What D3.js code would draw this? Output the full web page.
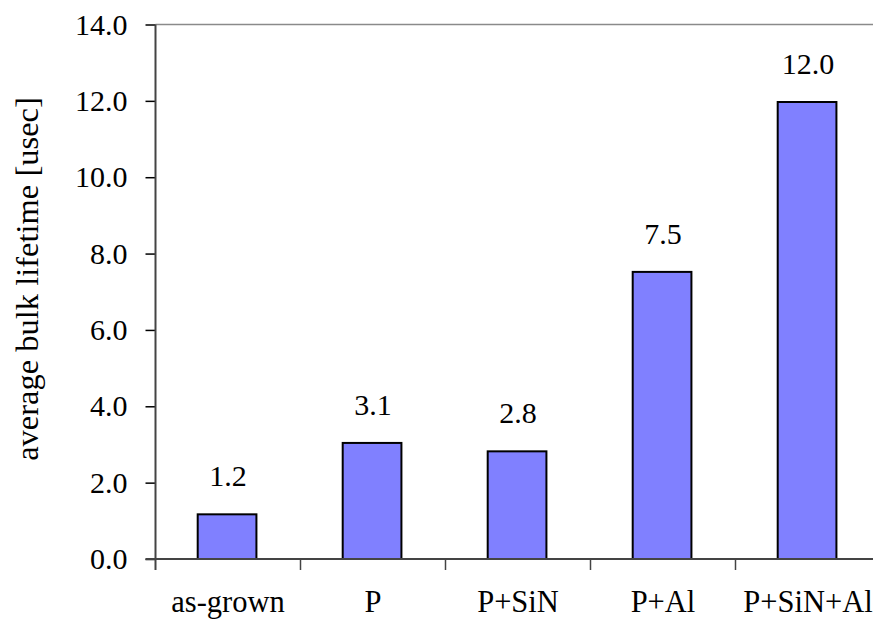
<!DOCTYPE html>
<html>
<head>
<meta charset="utf-8">
<script src="https://cdn.jsdelivr.net/npm/d3@7/dist/d3.min.js"></script>
<style>
  html, body { margin: 0; padding: 0; background: #fff; }
  svg { display: block; }
</style>
</head>
<body>
<svg id="chart" width="873" height="622" font-family="Times New Roman"></svg>
<script>
const categories = ["as-grown", "P", "P+SiN", "P+Al", "P+SiN+Al"];
const values = [1.17, 3.04, 2.82, 7.52, 11.97];
const valueLabels = ["1.2", "3.1", "2.8", "7.5", "12.0"];
const yTicks = [0, 2, 4, 6, 8, 10, 12, 14];
const yTitle = "average bulk lifetime [usec]";

const FONT = "Times New Roman";
const svg = d3.select("#chart");
const plotLeft = 155.5, bandW = 145, plotTop = 24.5, plotBottom = 559;

const x = d3.scaleBand().domain(categories)
  .range([plotLeft, plotLeft + bandW * categories.length]).paddingInner(0).paddingOuter(0);
const y = d3.scaleLinear().domain([0, 14]).range([plotBottom, plotTop]);

// top border line
svg.append("line")
  .attr("x1", plotLeft).attr("x2", 873).attr("y1", y(14)).attr("y2", y(14))
  .attr("stroke", "#8a8a8a").attr("stroke-width", 1.5);

// bars
const bw = x.bandwidth();
svg.append("g").selectAll("rect").data(categories).join("rect")
  .attr("x", (d) => x(d) + bw * 0.3 - 1.3)
  .attr("width", bw * 0.405)
  .attr("y", (d, i) => y(values[i]))
  .attr("height", (d, i) => y(0) - y(values[i]))
  .attr("fill", "#8080ff")
  .attr("stroke", "#000")
  .attr("stroke-width", 2);

// value labels
svg.append("g").selectAll("text").data(categories).join("text")
  .attr("x", (d) => x(d) + bw / 2)
  .attr("y", (d, i) => y(values[i]) - 28)
  .attr("text-anchor", "middle")
  .attr("font-family", FONT).attr("font-size", 30).attr("fill", "#000")
  .text((d, i) => valueLabels[i]);

// y axis
const yAxis = d3.axisLeft(y).tickValues(yTicks).tickFormat(d3.format(".1f"))
  .tickSize(10).tickPadding(18);
const gy = svg.append("g").attr("transform", `translate(${plotLeft},0)`).call(yAxis);
gy.attr("font-family", FONT).attr("font-size", 30);
gy.select(".domain").remove();
gy.selectAll(".tick line").attr("stroke", "#000").attr("stroke-width", 1.5);
gy.selectAll(".tick text").attr("font-family", FONT).attr("font-size", 30).attr("fill", "#000");

// y axis line (extends to tick below)
svg.append("line")
  .attr("x1", plotLeft).attr("x2", plotLeft).attr("y1", y(14)).attr("y2", plotBottom + 11)
  .attr("stroke", "#444").attr("stroke-width", 2);

// x axis line
svg.append("line")
  .attr("x1", plotLeft - 10).attr("x2", 873).attr("y1", plotBottom).attr("y2", plotBottom)
  .attr("stroke", "#444").attr("stroke-width", 2);

// x tick marks at band boundaries
svg.append("g").selectAll("line").data(categories.slice(1)).join("line")
  .attr("x1", (d) => x(d)).attr("x2", (d) => x(d))
  .attr("y1", plotBottom).attr("y2", plotBottom + 11)
  .attr("stroke", "#444").attr("stroke-width", 1.5);

// x labels
svg.append("g").selectAll("text").data(categories).join("text")
  .attr("x", (d) => x(d) + bw / 2)
  .attr("y", 612)
  .attr("text-anchor", "middle")
  .attr("font-family", FONT).attr("font-size", 30.5).attr("fill", "#000")
  .text((d) => d);

// y title
svg.append("text")
  .attr("transform", `translate(38,279) rotate(-90)`)
  .attr("text-anchor", "middle")
  .attr("font-family", FONT).attr("font-size", 32.5).attr("fill", "#000")
  .text(yTitle);
</script>
</body>
</html>
